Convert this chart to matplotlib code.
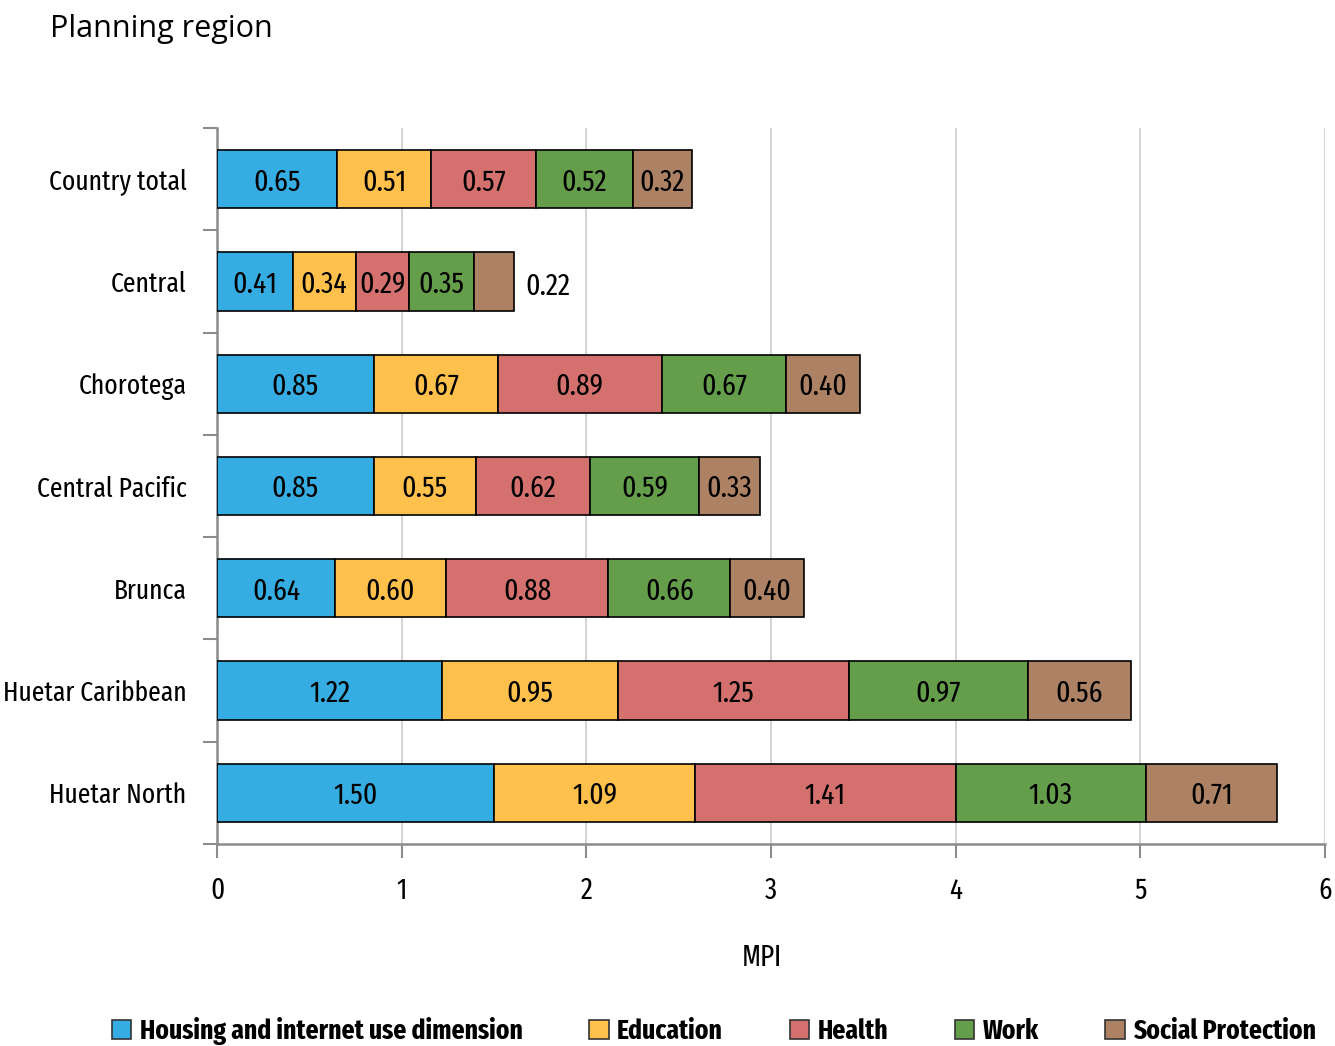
import matplotlib
matplotlib.use("Agg")
import matplotlib.pyplot as plt
from matplotlib.patches import Patch
import numpy as np

regions = ["Country total", "Central", "Chorotega", "Central Pacific", "Brunca",
           "Huetar Caribbean", "Huetar North"]
series_names = ["Housing and internet use dimension", "Education", "Health", "Work",
                "Social Protection"]
housing = [0.65, 0.41, 0.85, 0.85, 0.64, 1.22, 1.50]
education = [0.51, 0.34, 0.67, 0.55, 0.60, 0.95, 1.09]
health = [0.57, 0.29, 0.89, 0.62, 0.88, 1.25, 1.41]
work = [0.52, 0.35, 0.67, 0.59, 0.66, 0.97, 1.03]
social = [0.32, 0.22, 0.40, 0.33, 0.40, 0.56, 0.71]
xticks = [0, 1, 2, 3, 4, 5, 6]

colors = ["#35ADE3", "#FFC14C", "#D4716F", "#659E4B", "#AD8264"]
cond = ["Fira Sans Extra Condensed", "Fira Sans Condensed", "IBM Plex Sans Condensed", "DejaVu Sans"]
fs = 20

fig = plt.figure(figsize=(13.35, 10.46), dpi=100)
ax = fig.add_axes([217/1335, 1-844/1046, (1325-217)/1335, (844-128)/1046])

data = [housing, education, health, work, social]
y = np.arange(len(regions))
left = np.zeros(len(regions))
for s, (vals, c) in enumerate(zip(data, colors)):
    vals = np.array(vals)
    ax.barh(y, vals, left=left, height=0.57, color=c, edgecolor="black", linewidth=1.2, zorder=3)
    for i, v in enumerate(vals):
        if v < 0.25:
            ax.text(left[i] + v + 0.06, y[i] + 0.05, f"{v:.2f}", ha="left", va="center",
                    fontsize=21.5, family=cond, zorder=4)
        else:
            ax.text(left[i] + v / 2, y[i] + 0.03, f"{v:.2f}", ha="center", va="center",
                    fontsize=21.5, family=cond, zorder=4)
    left += vals

ax.set_xlim(0, 6)
ax.set_ylim(len(regions) - 0.5, -0.5)
ax.set_xticks(xticks)
ax.set_xticklabels([str(t) for t in xticks], family=cond, fontsize=21)
ax.set_yticks(y)
ax.set_yticklabels(regions, family=cond, fontsize=fs)
ax.tick_params(axis="y", length=0, pad=22)
ax.tick_params(axis="x", length=10, width=1.5, color="#8c8c8c", pad=13)
ax.set_yticks(np.arange(len(regions) + 1) - 0.5, minor=True)
ax.tick_params(axis="y", which="minor", length=10, width=1.5, color="#8c8c8c")

ax.grid(axis="x", color="#cccccc", linewidth=1.2, zorder=0)
for sp in ["top", "right"]:
    ax.spines[sp].set_visible(False)
for sp in ["left", "bottom"]:
    ax.spines[sp].set_color("#8c8c8c")
    ax.spines[sp].set_linewidth(1.8)

fig.text(50/1335, 1-29/1046, "Planning region", fontsize=22,
         family=["Selawik", "Open Sans", "DejaVu Sans"], ha="left", va="center")
fig.text(762/1335, 1-958/1046, "MPI", fontsize=21, family=cond, ha="center", va="center")

handles = [Patch(facecolor=c, edgecolor="#333333", linewidth=1.2) for c in colors]
leg = fig.legend(handles, series_names, loc="center", bbox_to_anchor=(714/1335, 1-1031/1046),
                 ncol=5, frameon=False, prop={"family": cond, "size": fs, "weight": "bold"},
                 handlelength=0.7, handleheight=0.7, handletextpad=0.3, columnspacing=2.4,
                 borderaxespad=0)

fig.savefig("out.png", dpi=100)
